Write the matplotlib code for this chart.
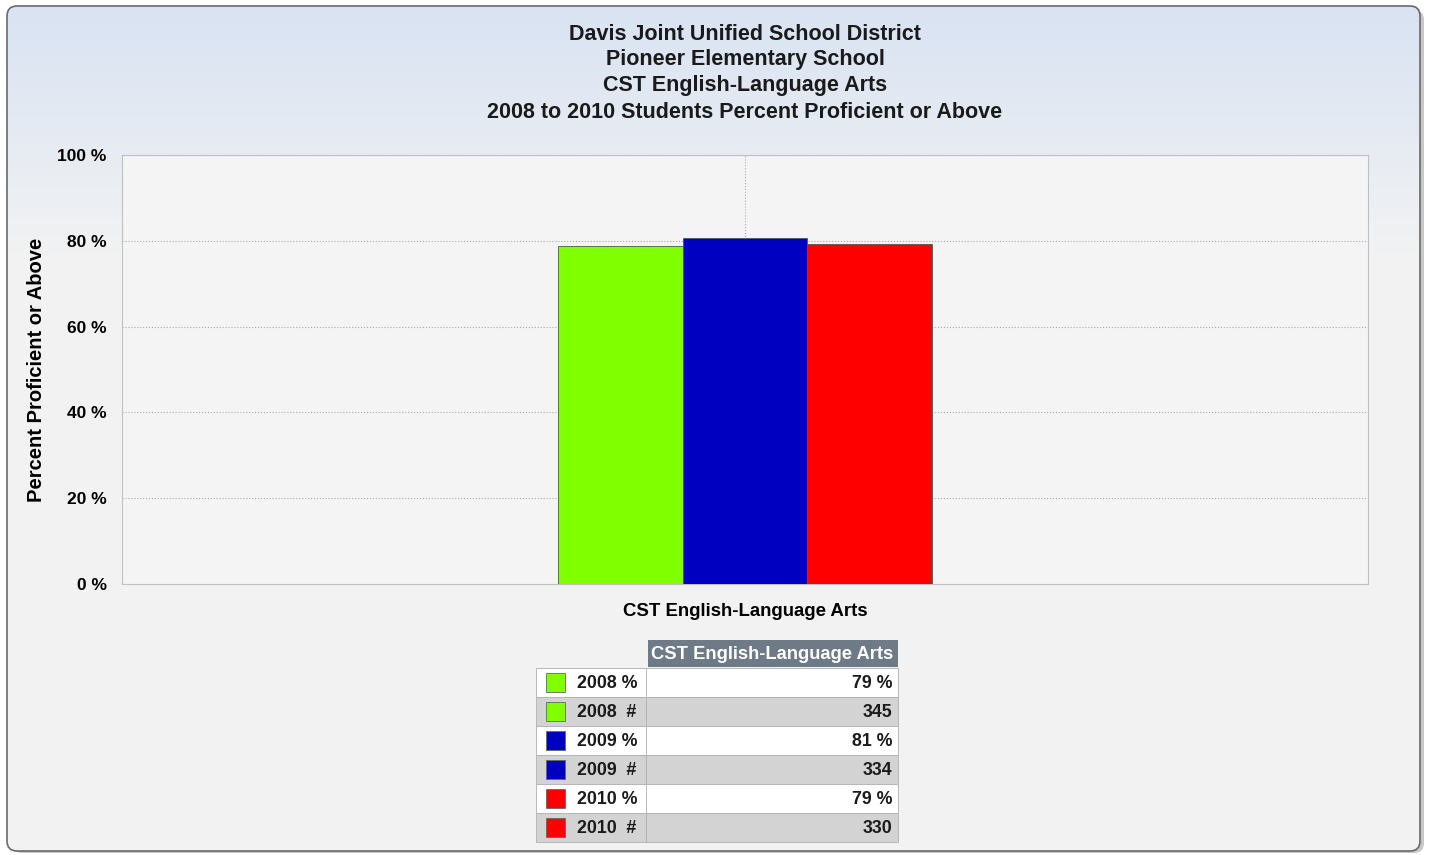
import matplotlib.pyplot as plt
import numpy as np
from matplotlib.patches import FancyBboxPatch, Rectangle

plt.rcParams['font.family'] = ['Liberation Sans', 'DejaVu Sans']

# Data
title_lines = ['Davis Joint Unified School District',
               'Pioneer Elementary School',
               'CST English-Language Arts',
               '2008 to 2010 Students Percent Proficient or Above']
category = 'CST English-Language Arts'
years = ['2008', '2009', '2010']
pct = [78.9, 80.6, 79.2]
pct_label = ['79 %', '81 %', '79 %']
counts = [345, 334, 330]
colors = ['#80ff00', '#0000c0', '#ff0000']

W, H = 1436, 855
fig = plt.figure(figsize=(W / 100, H / 100), dpi=100)
fig.patch.set_facecolor('white')

# background layer in pixel coords
bg = fig.add_axes([0, 0, 1, 1])
bg.set_xlim(0, W)
bg.set_ylim(H, 0)
bg.axis('off')

# shadow + panel
bg.add_patch(FancyBboxPatch((12, 10), 1412, 843, boxstyle='round,pad=0,rounding_size=10',
                            facecolor='#c8c8c8', edgecolor='none', zorder=0))
grad = np.linspace(0, 1, 256).reshape(-1, 1)
top = np.array([0.85, 0.89, 0.95])
bot = np.array([0.95, 0.95, 0.95])
img = top + (bot - top) * grad[:, :, None] * np.ones((1, 1, 3))
panel = FancyBboxPatch((7, 6), 1413, 845, boxstyle='round,pad=0,rounding_size=10',
                       facecolor='none', edgecolor='#6a6a6a', linewidth=1.2, zorder=2)
bg.add_patch(panel)
im = bg.imshow(np.concatenate([img, np.repeat(img[-1:], 600, axis=0)]),
               extent=(7, 1420, 851, 6), aspect='auto', zorder=1)
im.set_clip_path(panel)

# titles
for i, line in enumerate(title_lines):
    bg.text(745, 34 + i * 26, line, ha='center', va='center', fontsize=15.5,
            fontweight='bold', color='#1a1a1a', zorder=3)

# main plot
ax = fig.add_axes([122 / W, 1 - 584 / H, (1368 - 122) / W, (584 - 155) / H])
ax.set_facecolor('#f4f4f4')
x = np.array([0.0])
width = 0.1
for i, (yr, v, c) in enumerate(zip(years, pct, colors)):
    ax.bar(x + (i - 1) * width, [v], width, color=c, edgecolor='#555555',
           linewidth=0.6, zorder=3)
ax.set_xlim(-0.5, 0.5)
ax.set_ylim(0, 100)
ax.set_yticks([0, 20, 40, 60, 80, 100])
ax.set_yticklabels([f'{t} %' for t in range(0, 101, 20)], fontsize=12.5, fontweight='bold')
ax.set_xticks([0])
ax.set_xticklabels([category], fontsize=13.4, fontweight='bold')
ax.tick_params(axis='y', length=0, pad=11)
ax.tick_params(axis='x', length=0, pad=14)
ax.grid(True, linestyle=':', color='#aaaaaa', linewidth=0.8, zorder=0)
for s in ax.spines.values():
    s.set_color('#c0c0c0')
ax.set_ylabel('Percent Proficient or Above', fontsize=14.5, fontweight='bold', labelpad=8)

# data table
tx0, tx1, tx2 = 536, 646, 898
ty0, rh = 668, 29
bg.add_patch(Rectangle((648, 640), tx2 - 648, 27, facecolor='#6e7a86', edgecolor='none', zorder=3))
bg.text(772, 654, category, ha='center', va='center', fontsize=13.2, fontweight='bold',
        color='white', zorder=4)
rows = []
for yr, p, n, c in zip(years, pct_label, counts, colors):
    rows.append((f'{yr} %', p, c))
    rows.append((f'{yr}  #', str(n), c))
for r, (lab, val, c) in enumerate(rows):
    y = ty0 + r * rh
    fc = 'white' if r % 2 == 0 else '#d3d3d3'
    bg.add_patch(Rectangle((tx0, y), tx2 - tx0, rh, facecolor=fc, edgecolor='#b0b0b0',
                           linewidth=0.6, zorder=3))
    bg.plot([tx1, tx1], [y, y + rh], color='#b0b0b0', linewidth=0.6, zorder=4)
    bg.add_patch(Rectangle((546, y + 5), 19, 19, facecolor=c, edgecolor='#666666',
                           linewidth=0.6, zorder=4))
    bg.text(577, y + rh / 2 + 1, lab, ha='left', va='center', fontsize=12.8,
            fontweight='bold', color='#1a1a1a', zorder=4)
    bg.text(892, y + rh / 2 + 1, val, ha='right', va='center', fontsize=12.8,
            fontweight='bold', color='#1a1a1a', zorder=4)

fig.savefig('out.png', dpi=100)
